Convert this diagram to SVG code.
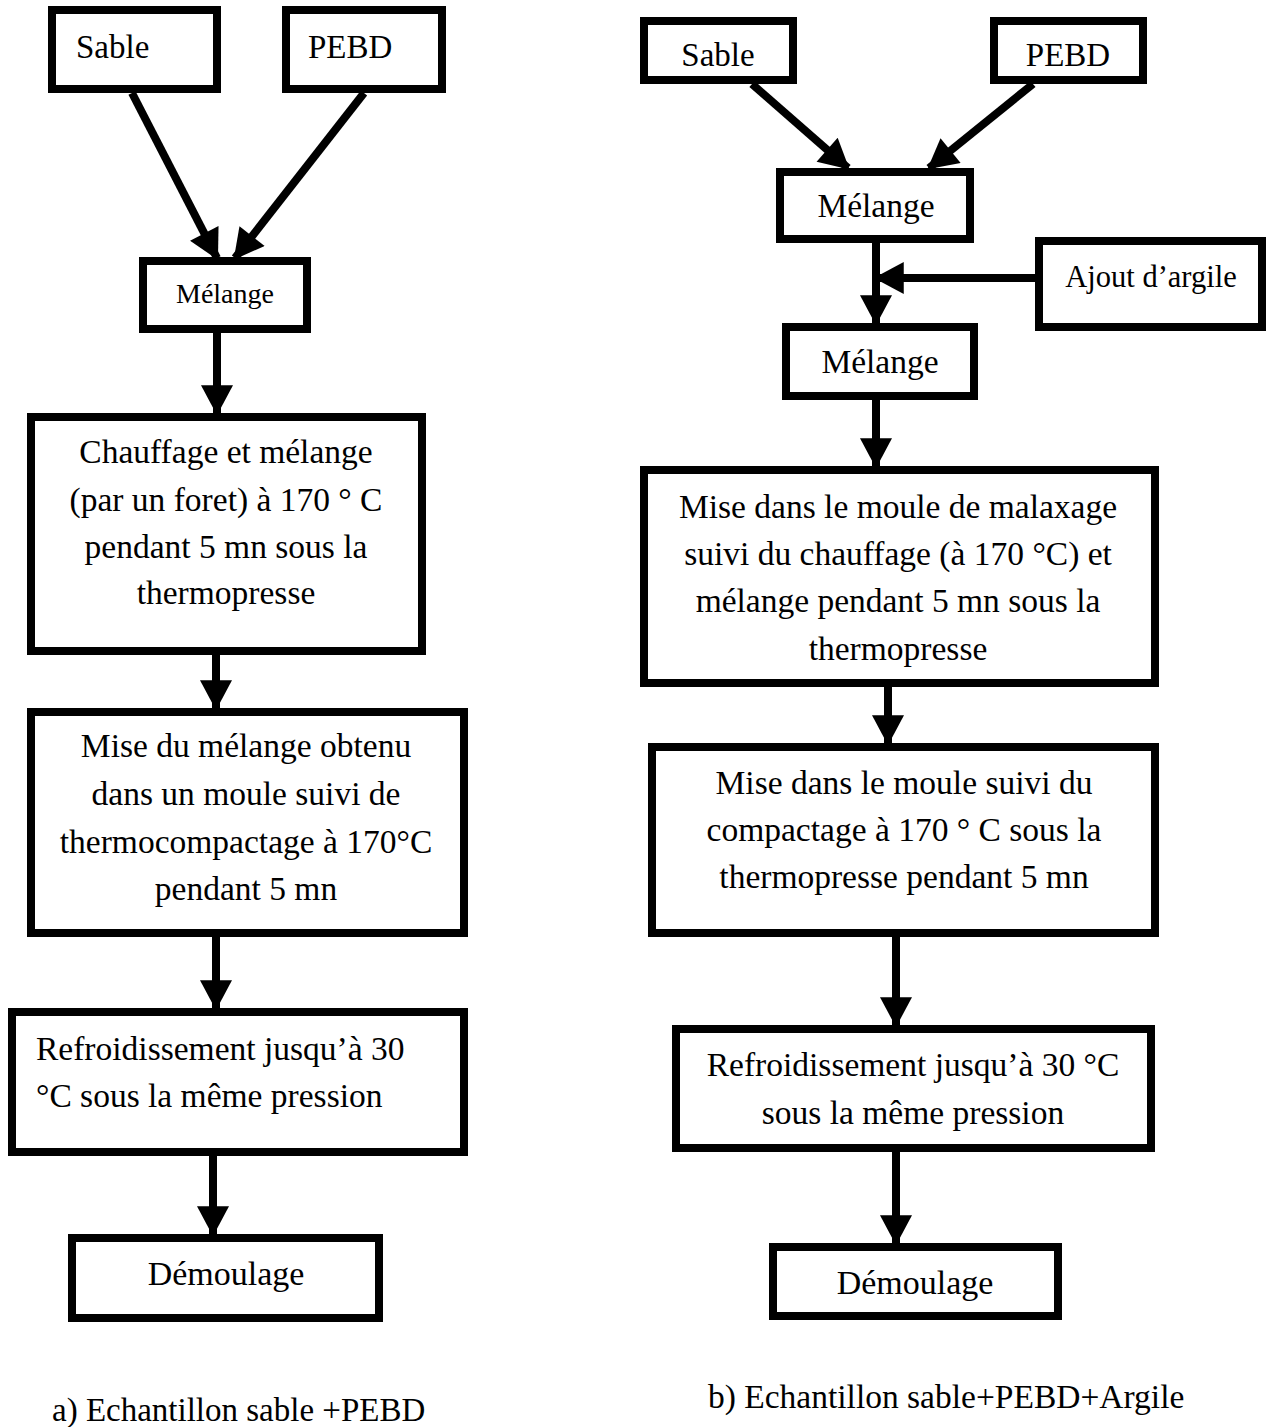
<svg xmlns="http://www.w3.org/2000/svg" width="1268" height="1427" viewBox="0 0 1268 1427">
<style>
.box{fill:#fff;stroke:#000;stroke-width:8}
.t{font-family:'Liberation Serif','Tinos','DejaVu Serif',serif;font-size:33.5px;fill:#000}
.c{text-anchor:middle}
.ln{stroke:#000;stroke-width:8;fill:none}
</style>
<defs>
<marker id="ah" markerUnits="userSpaceOnUse" markerWidth="32" markerHeight="32" viewBox="0 0 28 30" refX="26" refY="15" orient="auto">
<path d="M0,0 L28,15 L0,30 Z" fill="#000"/>
</marker>
</defs>
<rect width="1268" height="1427" fill="#fff"/>

<g id="connectors">
<line class="ln" x1="132" y1="93" x2="217" y2="258" marker-end="url(#ah)"/>
<line class="ln" x1="364" y1="93" x2="235" y2="258" marker-end="url(#ah)"/>
<line class="ln" x1="217" y1="333" x2="217" y2="413" marker-end="url(#ah)"/>
<line class="ln" x1="216" y1="655" x2="216" y2="708" marker-end="url(#ah)"/>
<line class="ln" x1="216" y1="937" x2="216" y2="1008" marker-end="url(#ah)"/>
<line class="ln" x1="213" y1="1156" x2="213" y2="1234" marker-end="url(#ah)"/>

<line class="ln" x1="752" y1="84" x2="848" y2="168" marker-end="url(#ah)"/>
<line class="ln" x1="1033" y1="84" x2="929" y2="168" marker-end="url(#ah)"/>
<line class="ln" x1="876" y1="243" x2="876" y2="323" marker-end="url(#ah)"/>
<line class="ln" x1="1035" y1="278" x2="876" y2="278" marker-end="url(#ah)"/>
<line class="ln" x1="876" y1="400" x2="876" y2="466" marker-end="url(#ah)"/>
<line class="ln" x1="888" y1="687" x2="888" y2="743" marker-end="url(#ah)"/>
<line class="ln" x1="896" y1="937" x2="896" y2="1025" marker-end="url(#ah)"/>
<line class="ln" x1="896" y1="1152" x2="896" y2="1243" marker-end="url(#ah)"/>
</g>

<g id="a-sable"><rect class="box" x="52" y="10" width="165" height="79"/><text class="t" x="76" y="58" style="font-size:33px">Sable</text></g>
<g id="a-pebd"><rect class="box" x="286" y="10" width="156" height="79"/><text class="t" x="308" y="58" style="font-size:33px">PEBD</text></g>
<g id="a-melange"><rect class="box" x="143" y="261" width="164" height="68"/><text class="t c" x="225" y="303" style="font-size:28px">Mélange</text></g>
<g id="a-chauffage"><rect class="box" x="31" y="417" width="391" height="234"/>
<text class="t c" x="226" y="463">Chauffage et mélange</text>
<text class="t c" x="226" y="511">(par un foret) à 170 ° C</text>
<text class="t c" x="226" y="558">pendant 5 mn sous la</text>
<text class="t c" x="226" y="604">thermopresse</text></g>
<g id="a-mise"><rect class="box" x="31" y="712" width="433" height="221"/>
<text class="t c" x="246" y="757">Mise du mélange obtenu</text>
<text class="t c" x="246" y="805">dans un moule suivi de</text>
<text class="t c" x="246" y="853">thermocompactage à 170°C</text>
<text class="t c" x="246" y="900">pendant 5 mn</text></g>
<g id="a-refroid"><rect class="box" x="12" y="1012" width="452" height="140"/>
<text class="t" x="36" y="1060">Refroidissement jusqu’à 30</text>
<text class="t" x="36" y="1107">°C sous la même pression</text></g>
<g id="a-demoulage"><rect class="box" x="72" y="1238" width="307" height="80"/><text class="t c" x="226" y="1285" style="font-size:34px">Démoulage</text></g>
<text class="t" x="52" y="1421" style="font-size:33px">a) Echantillon sable +PEBD</text>

<g id="b-sable"><rect class="box" x="644" y="21" width="149" height="59"/><text class="t c" x="718" y="66" style="font-size:33px">Sable</text></g>
<g id="b-pebd"><rect class="box" x="994" y="21" width="149" height="59"/><text class="t c" x="1068" y="66" style="font-size:33px">PEBD</text></g>
<g id="b-melange1"><rect class="box" x="780" y="172" width="190" height="67"/><text class="t c" x="876" y="217">Mélange</text></g>
<g id="b-ajout"><rect class="box" x="1039" y="241" width="223" height="86"/><text class="t c" x="1151" y="287" style="font-size:30.5px">Ajout d’argile</text></g>
<g id="b-melange2"><rect class="box" x="786" y="327" width="188" height="69"/><text class="t c" x="880" y="373">Mélange</text></g>
<g id="b-mise1"><rect class="box" x="644" y="470" width="511" height="213"/>
<text class="t c" x="898" y="518">Mise dans le moule de malaxage</text>
<text class="t c" x="898" y="565">suivi du chauffage (à 170 °C) et</text>
<text class="t c" x="898" y="612">mélange pendant 5 mn sous la</text>
<text class="t c" x="898" y="660">thermopresse</text></g>
<g id="b-mise2"><rect class="box" x="652" y="747" width="503" height="186"/>
<text class="t c" x="904" y="794">Mise dans le moule suivi du</text>
<text class="t c" x="904" y="841">compactage à 170 ° C sous la</text>
<text class="t c" x="904" y="888">thermopresse pendant 5 mn</text></g>
<g id="b-refroid"><rect class="box" x="676" y="1029" width="475" height="119"/>
<text class="t c" x="913" y="1076">Refroidissement jusqu’à 30 °C</text>
<text class="t c" x="913" y="1124">sous la même pression</text></g>
<g id="b-demoulage"><rect class="box" x="773" y="1247" width="285" height="69"/><text class="t c" x="915" y="1294" style="font-size:34px">Démoulage</text></g>
<text class="t" x="708" y="1408">b) Echantillon sable+PEBD+Argile</text>
</svg>
